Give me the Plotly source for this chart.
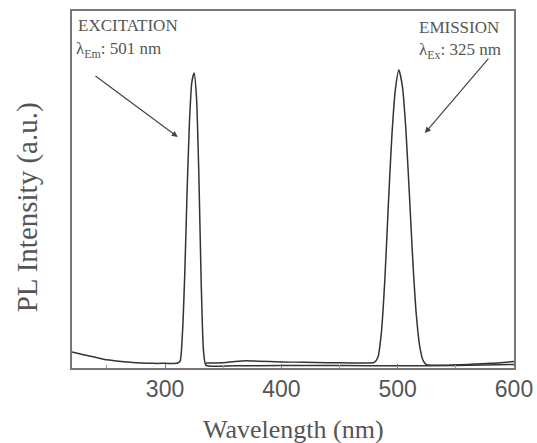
import plotly.graph_objects as go

# Excitation spectrum (monitored at 501 nm)
exc_wavelength = [220, 230, 240, 250, 260, 270, 280, 290, 300, 310, 311, 313, 315, 317, 319, 321,
                  323, 325, 327, 329, 331, 333, 335, 340, 360, 400, 450, 500, 550, 600]
exc_intensity = [0.045, 0.037, 0.030, 0.023, 0.019, 0.016, 0.014, 0.013, 0.013, 0.013, 0.014, 0.02,
                 0.10, 0.27, 0.50, 0.69, 0.80, 0.826, 0.76, 0.55, 0.25, 0.05, 0.008, 0.005, 0.006,
                 0.007, 0.007, 0.006, 0.007, 0.010]

# Emission spectrum (excited at 325 nm)
em_wavelength = [335, 350, 360, 370, 380, 400, 420, 440, 460, 475, 480, 483, 486, 489, 492, 495,
                 498, 501, 504, 507, 510, 513, 516, 519, 522, 525, 540, 560, 580, 600]
em_intensity = [0.014, 0.015, 0.018, 0.020, 0.019, 0.017, 0.016, 0.015, 0.014, 0.014, 0.016, 0.03,
                0.10, 0.25, 0.46, 0.65, 0.78, 0.835, 0.79, 0.67, 0.49, 0.30, 0.15, 0.06, 0.02,
                0.009, 0.008, 0.010, 0.013, 0.018]

x_ticks = [300, 400, 500, 600]

LINE = "#333333"
TXT = "#555555"
SERIF = "Liberation Serif, Times New Roman, serif"

fig = go.Figure()
fig.add_trace(go.Scatter(x=exc_wavelength, y=exc_intensity, mode="lines",
                         line=dict(color=LINE, width=1.5, shape="spline", smoothing=0.6),
                         name="Excitation", showlegend=False))
fig.add_trace(go.Scatter(x=em_wavelength, y=em_intensity, mode="lines",
                         line=dict(color=LINE, width=1.5, shape="spline", smoothing=0.6),
                         name="Emission", showlegend=False))

fig.update_layout(
    width=537, height=443,
    margin=dict(l=72, r=23, t=11, b=75),
    paper_bgcolor="white", plot_bgcolor="white",
    xaxis=dict(range=[220, 600], tickvals=x_ticks, ticktext=[str(v) for v in x_ticks],
               ticks="inside", ticklen=4, tickcolor="#777", showgrid=False, zeroline=False,
               showline=True, linecolor="#777", linewidth=1.5, mirror=True, automargin=False,
               minor=dict(ticks="inside", ticklen=3, tickcolor="#999", dtick=50, tick0=250),
               tickfont=dict(family="Liberation Sans, Arial, sans-serif", size=23, color=TXT)),
    yaxis=dict(range=[0, 1], showticklabels=False, ticks="", showgrid=False, zeroline=False,
               showline=True, linecolor="#777", linewidth=1.5, mirror=True, automargin=False),
    annotations=[
        dict(text="Wavelength (nm)", xref="paper", yref="paper", x=0.5, y=-0.125,
             xanchor="center", yanchor="top", showarrow=False,
             font=dict(family=SERIF, size=26, color=TXT)),
        dict(text="PL Intensity (a.u.)", xref="paper", yref="paper", x=-0.06, y=0.45,
             xanchor="right", yanchor="middle", textangle=-90, showarrow=False,
             font=dict(family=SERIF, size=29, color=TXT)),
        dict(text="EXCITATION", xref="paper", yref="paper", x=0.008, y=0.958,
             xanchor="left", yanchor="middle", showarrow=False,
             font=dict(family=SERIF, size=17, color=TXT)),
        dict(text="λ<sub>Em</sub>: 501 nm", xref="paper", yref="paper", x=0.004, y=0.892,
             xanchor="left", yanchor="middle", showarrow=False,
             font=dict(family=SERIF, size=17, color=TXT)),
        dict(text="EMISSION", xref="paper", yref="paper", x=0.97, y=0.953,
             xanchor="right", yanchor="middle", showarrow=False,
             font=dict(family=SERIF, size=17, color=TXT)),
        dict(text="λ<sub>Ex</sub>: 325 nm", xref="paper", yref="paper", x=0.976, y=0.887,
             xanchor="right", yanchor="middle", showarrow=False,
             font=dict(family=SERIF, size=17, color=TXT)),
        dict(x=310.9, y=0.647, ax=238.9, ay=0.821, xref="x", yref="y", axref="x", ayref="y",
             text="", showarrow=True, arrowhead=2, arrowsize=1, arrowwidth=1.2, arrowcolor="#444"),
        dict(x=523.4, y=0.658, ax=579.1, ay=0.871, xref="x", yref="y", axref="x", ayref="y",
             text="", showarrow=True, arrowhead=2, arrowsize=1, arrowwidth=1.2, arrowcolor="#444"),
    ],
)

fig.write_html("out.html", config={"displayModeBar": False},
               post_script="document.body.style.margin='0';")
